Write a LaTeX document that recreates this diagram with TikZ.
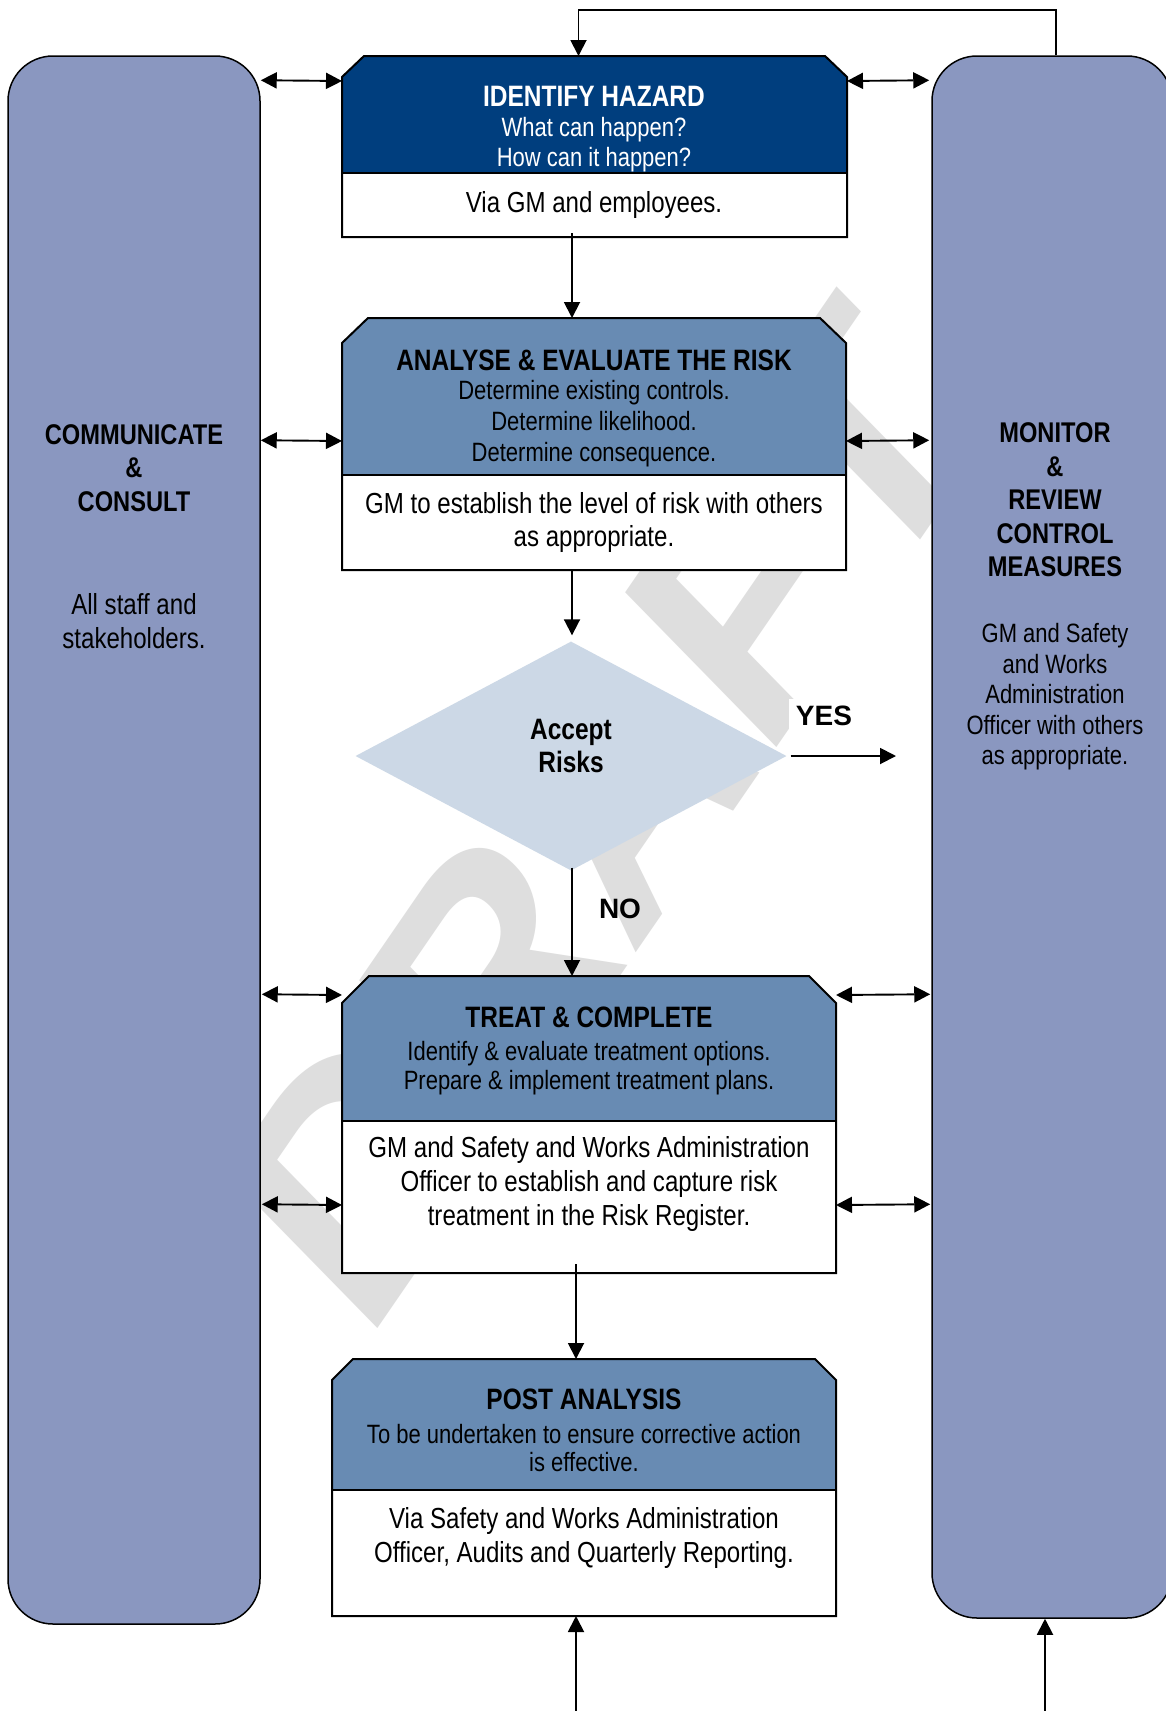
\documentclass[tikz,border=0pt]{standalone}
\usepackage{fontspec}
\setmainfont{Liberation Sans}
\newfontfamily\narrowfont[FakeStretch=0.83]{Liberation Sans}
\usetikzlibrary{arrows.meta,calc,shapes.geometric}
\definecolor{panelblue}{RGB}{138,151,192}
\definecolor{darkhead}{RGB}{0,62,126}
\definecolor{midhead}{RGB}{104,139,179}
\definecolor{diamondfill}{RGB}{204,216,230}
\definecolor{wmgray}{RGB}{222,222,222}
\tikzset{
  panel/.style={draw=black, line width=1.5pt, fill=panelblue, rounded corners=45pt, inner sep=0pt},
  boxline/.style={draw=black, line width=2pt, line join=miter},
  hit/.style={inner sep=0pt, outer sep=0pt},
  arr/.style={-{Triangle[length=16pt,width=16pt]}, line width=1.9pt},
  darr/.style={{Triangle[length=16pt,width=16pt]}-{Triangle[length=16pt,width=16pt]}, line width=1.9pt},
  ttl/.style={font=\narrowfont\bfseries\fontsize{29.5}{33}\selectfont, align=center, inner sep=0pt},
  sub/.style={font=\narrowfont\fontsize{26.5}{30}\selectfont, align=center, inner sep=0pt},
  bod/.style={font=\narrowfont\fontsize{29}{34}\selectfont, align=center, inner sep=0pt},
  side/.style={font=\narrowfont\bfseries\fontsize{28.5}{33.5}\selectfont, align=center, inner sep=0pt},
  lbl/.style={font=\bfseries\fontsize{28}{32}\selectfont, inner sep=0pt},
  wm/.style={font=\bfseries\fontsize{350}{350}\selectfont, text=wmgray, inner sep=0pt}
}
\begin{document}
\begin{tikzpicture}[x=1pt, y=-1pt]
\useasboundingbox (0,0) rectangle (1166,1711);
\fill[white] (0,0) rectangle (1166,1711);

% watermark
\node[wm, xscale=0.82, rotate=50] (draft) at (602,815) {DRAFT};

% side panels
\node[panel, minimum width=252pt, minimum height=1568pt] (comm) at (134,840) {};
\node[panel, minimum width=240pt, minimum height=1562pt] (mon) at (1052,837) {};

\node[side] (commT) at (134,468) {COMMUNICATE\\\&\\CONSULT};
\node[bod] (commB) at (134,621) {All staff and\\stakeholders.};
\node[side] (monT) at (1055,500) {MONITOR\\\&\\REVIEW\\CONTROL\\MEASURES};
\node[sub, font=\narrowfont\fontsize{26.5}{30.5}\selectfont] (monB) at (1055,697) {GM and Safety\\and Works\\Administration\\Officer with others\\as appropriate.};

% IDENTIFY HAZARD box
\fill[darkhead] (342,77) -- (364,56) -- (825,56) -- (847,77) -- (847,173) -- (342,173) -- cycle;
\fill[white] (342,173) rectangle (847,237);
\draw[boxline] (342,77) -- (364,56) -- (825,56) -- (847,77) -- (847,237) -- (342,237) -- cycle;
\draw[boxline] (342,173) -- (847,173);
\node[hit, minimum width=505pt, minimum height=181pt] (idb) at (594.5,146.5) {};
\node[ttl, text=white] (idT) at (594,96) {IDENTIFY HAZARD};
\node[sub, text=white] (idS) at (594,145) {What can happen?\\How can it happen?};
\node[bod] (idB) at (594,205) {Via GM and employees.};

% ANALYSE box
\fill[midhead] (342,343) -- (368,318) -- (820,318) -- (846,343) -- (846,475) -- (342,475) -- cycle;
\fill[white] (342,475) rectangle (846,570);
\draw[boxline] (342,343) -- (368,318) -- (820,318) -- (846,343) -- (846,570) -- (342,570) -- cycle;
\draw[boxline] (342,475) -- (846,475);
\node[hit, minimum width=504pt, minimum height=252pt] (anb) at (594,444) {};
\node[ttl] (anT) at (594,360) {ANALYSE \& EVALUATE THE RISK};
\node[sub, font=\narrowfont\fontsize{26.5}{31}\selectfont] (anS) at (594,424) {Determine existing controls.\\Determine likelihood.\\Determine consequence.};
\node[bod, font=\narrowfont\fontsize{29}{33}\selectfont] (anB) at (594,522) {GM to establish the level of risk with others\\as appropriate.};

% decision
\node[diamond, fill=diamondfill, minimum width=431pt, minimum height=229pt, inner sep=0pt] (acc) at (571,756) {};
\node[ttl] (accT) at (571,746) {Accept\\Risks};
\node[lbl, fill=white, inner sep=7pt] (yes) at (824,716) {YES};
\node[lbl] (no) at (620,909) {NO};
\coordinate (yesend) at (896,756);

% TREAT box
\fill[midhead] (342,1003) -- (369,976) -- (809,976) -- (836,1003) -- (836,1120.5) -- (342,1120.5) -- cycle;
\fill[white] (342,1120.5) rectangle (836,1273);
\draw[boxline] (342,1003) -- (369,976) -- (809,976) -- (836,1003) -- (836,1273) -- (342,1273) -- cycle;
\draw[boxline] (342,1120.5) -- (836,1120.5);
\node[hit, minimum width=494pt, minimum height=297pt] (trb) at (589,1124.5) {};
\node[ttl] (trT) at (589,1017) {TREAT \& COMPLETE};
\node[sub, font=\narrowfont\fontsize{26.5}{29}\selectfont] (trS) at (589,1068) {Identify \& evaluate treatment options.\\Prepare \& implement treatment plans.};
\node[bod] (trB) at (589,1184) {GM and Safety and Works Administration\\Officer to establish and capture risk\\treatment in the Risk Register.};

% POST ANALYSIS box
\fill[midhead] (332,1380) -- (353,1359) -- (815,1359) -- (836,1380) -- (836,1490) -- (332,1490) -- cycle;
\fill[white] (332,1490) rectangle (836,1616);
\draw[boxline] (332,1380) -- (353,1359) -- (815,1359) -- (836,1380) -- (836,1616) -- (332,1616) -- cycle;
\draw[boxline] (332,1490) -- (836,1490);
\node[hit, minimum width=504pt, minimum height=257pt] (pob) at (584,1487.5) {};
\node[ttl] (poT) at (584,1399) {POST ANALYSIS};
\node[sub, font=\narrowfont\fontsize{26.5}{28.5}\selectfont] (poS) at (584,1448) {To be undertaken to ensure corrective action\\is effective.};
\node[bod] (poB) at (584,1538) {Via Safety and Works Administration\\Officer, Audits and Quarterly Reporting.};

% connectors
\draw[arr] ($(mon.north)+(4,0)$) -- ++(0,-45) -| ($(idb.north)+(-16,0)$);
\draw[arr] ($(idb.south)+(-22.5,-4)$) -- ($(anb.north)+(-22,0)$);
\draw[arr] ($(anb.south)+(-22,0)$) -- ($(acc.north)+(1,-6)$);
\draw[arr] ($(acc.south)+(1,-3)$) -- ($(trb.north)+(-17,0)$);
\draw[arr] ($(acc.east)+(4,0)$) -- (yesend);
\draw[arr] ($(trb.south)+(-13,-9)$) -- ($(pob.north)+(-8,0)$);
\coordinate (bin1) at (576,1711);
\coordinate (bin2) at (1045,1711);
\draw[arr] (bin1) -- ($(pob.south)+(-8,0)$);
\draw[arr] (bin2) -- ($(mon.south)+(-7,0)$);

\draw[darr] ($(comm.north east)+(0,25)$) -- ($(idb.north west)+(0,25)$);
\draw[darr] ($(idb.north east)+(0,25)$) -- ($(mon.north west)+(-2,25)$);
\draw[darr] ($(comm.north east)+(0,385)$) -- ($(anb.north west)+(0,123)$);
\draw[darr] ($(anb.north east)+(0,123)$) -- ($(mon.north west)+(-2,385)$);
\draw[darr] ($(comm.north east)+(1,939)$) -- ($(trb.north west)+(0,19)$);
\draw[darr] ($(trb.north east)+(0,19)$) -- ($(mon.north west)+(-1,939)$);
\draw[darr] ($(comm.north east)+(1,1149)$) -- ($(trb.north west)+(0,229)$);
\draw[darr] ($(trb.north east)+(0,229)$) -- ($(mon.north west)+(-1,1149)$);
\end{tikzpicture}
\end{document}
